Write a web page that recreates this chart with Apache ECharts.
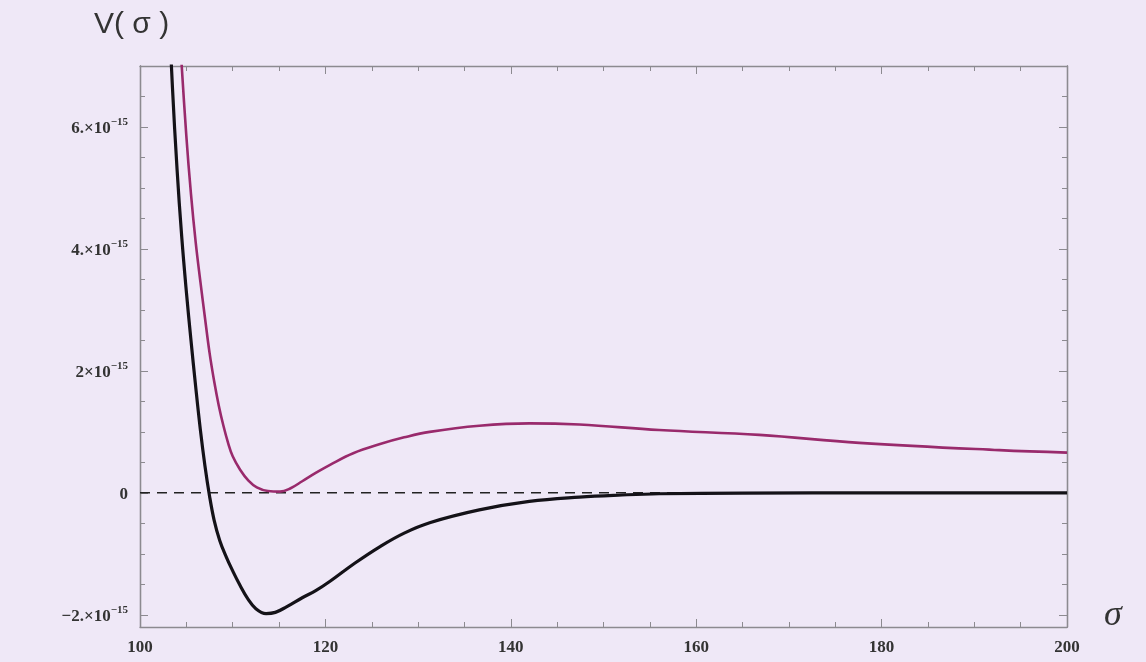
<!DOCTYPE html>
<html>
<head>
<meta charset="utf-8">
<script src="https://cdn.jsdelivr.net/npm/echarts@6/dist/echarts.min.js"></script>
<style>
html,body{margin:0;padding:0;background:#efe8f7;}
#c{width:1146px;height:662px;}
</style>
</head>
<body>
<div id="c"></div>
<script>
// sigma values and V(sigma) in units of 1e-15
const blackSigma = [103.0,103.5,104.0,104.5,105.0,105.5,106.0,106.5,107.0,107.5,108.0,108.6,109.3,110.0,110.8,111.6,112.5,113.6,114.6,115.8,117.5,119.0,120.5,123.2,125.9,128.5,131.25,136.6,142,147.4,152,156,165,180,200];
const blackV     = [8.3,6.65,5.3,4.2,3.3,2.5,1.75,1.05,0.45,-0.05,-0.45,-0.78,-1.05,-1.28,-1.52,-1.73,-1.90,-1.98,-1.96,-1.87,-1.72,-1.60,-1.45,-1.15,-0.88,-0.66,-0.49,-0.28,-0.14,-0.07,-0.035,-0.015,-0.005,0,0];
const magSigma = [104.0,104.5,105.0,105.5,106.0,106.5,107.0,107.5,108.0,108.5,109.0,109.5,110.0,110.8,111.7,112.6,113.8,115.1,116.3,117.5,119.0,120.5,123.0,125.9,128.5,131.25,136.6,142,147.4,156,166.8,177.6,192.7,200];
const magV     = [8.2,7.0,5.85,4.9,4.12,3.48,2.88,2.3,1.83,1.43,1.1,0.82,0.6,0.38,0.2,0.09,0.03,0.02,0.08,0.19,0.33,0.46,0.65,0.80,0.91,1.00,1.10,1.14,1.12,1.03,0.95,0.82,0.70,0.66];
const xTicks = [100,120,140,160,180,200];
const yMajor = [-2,0,2,4,6];
const yMinor = [-1.5,-1,-0.5,0.5,1,1.5,2.5,3,3.5,4.5,5,5.5,6.5,7];
const yLabels = {'-2':'−2.×10','0':'0','2':'2×10','4':'4.×10','6':'6.×10'};

const pair = (xs, ys) => xs.map((x,i)=>[x, ys[i]]);

const frame = '#8c8a90';
const labelFont = 'Liberation Serif';

function yAxisDef(pos, major, showLabel){
  return {
    type:'value', min:-2.2, max:7, position:pos,
    axisLine:{show:true, onZero:false, lineStyle:{color:frame, width:1.3}},
    splitLine:{show:false},
    axisTick:{show:true, inside:true, length: major?8:5, customValues: major?yMajor:yMinor, lineStyle:{color:frame}},
    axisLabel:{show:showLabel, customValues: yMajor, margin:12,
      formatter: v => {
        const k = String(Math.round(v));
        const t = yLabels[k];
        if (t === '0') return '{b|0}';
        return '{b|'+t+'}{s|−15}';
      },
      rich:{
        b:{fontFamily:labelFont, fontSize:17, fontWeight:'bold', color:'#333', verticalAlign:'bottom', lineHeight:20},
        s:{fontFamily:labelFont, fontSize:11, fontWeight:'bold', color:'#333', verticalAlign:'top', lineHeight:20, padding:[0,0,10,0]}
      }
    }
  };
}
function xAxisDef(pos, showLabel){
  return {
    type:'value', min:100, max:200, interval:20, position:pos,
    axisLine:{show:true, onZero:false, lineStyle:{color:frame, width:1.3}},
    splitLine:{show:false},
    axisTick:{show:true, inside:true, length:8, lineStyle:{color:frame}},
    minorTick:{show:true, splitNumber:4, length:5, lineStyle:{color:frame}},
    axisLabel:{show:showLabel, margin:12, fontFamily:labelFont, fontSize:17, fontWeight:'bold', color:'#333'}
  };
}

const chart = echarts.init(document.getElementById('c'));
chart.setOption({
  backgroundColor:'#efe8f7',
  animation:false,
  grid:{left:140, right:79, top:66, bottom:35},
  xAxis:[xAxisDef('bottom', true), xAxisDef('top', false)],
  yAxis:[yAxisDef('left', true, true), yAxisDef('left', false, false), yAxisDef('right', true, false), yAxisDef('right', false, false)],
  series:[
    {type:'line', data:[[100,0],[200,0]], symbol:'none', lineStyle:{color:'#222', width:1.5, type:[10,7]}, z:1},
    {type:'line', data:pair(magSigma, magV), symbol:'none', smooth:0.4, lineStyle:{color:'#992a6c', width:2.6}, z:3},
    {type:'line', data:pair(blackSigma, blackV), symbol:'none', smooth:0.4, lineStyle:{color:'#141218', width:3.2}, z:4}
  ],
  graphic:[
    {type:'text', left:94, top:10, style:{text:'V( σ )', font:'30px "Liberation Sans"', fill:'#333'}},
    {type:'text', left:1104, top:598, style:{text:'σ', font:'italic 36px "Liberation Serif"', fill:'#333'}}
  ]
});
</script>
</body>
</html>
